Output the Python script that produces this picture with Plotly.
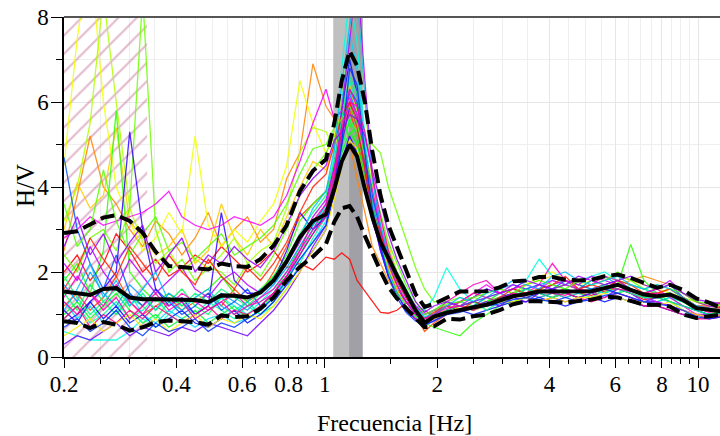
import plotly.graph_objects as go

# ---------------- data ----------------
freq = [0.200, 0.217, 0.235, 0.255, 0.276, 0.300, 0.325, 0.352, 0.382, 0.414,
        0.449, 0.487, 0.528, 0.572, 0.620, 0.672, 0.729, 0.790, 0.857, 0.929,
        1.007, 1.060, 1.110, 1.165, 1.220, 1.280, 1.340, 1.410, 1.480, 1.560,
        1.650, 1.750, 1.850, 1.960, 2.12, 2.30, 2.50, 2.71, 2.94, 3.19,
        3.46, 3.75, 4.07, 4.41, 4.78, 5.18, 5.62, 6.09, 6.60, 7.16,
        7.76, 8.41, 9.12, 9.89, 10.7, 11.6]

hv_mean = [1.54, 1.50, 1.46, 1.60, 1.62, 1.40, 1.36, 1.36, 1.35, 1.35,
           1.34, 1.29, 1.45, 1.44, 1.40, 1.52, 1.80, 2.25, 2.82, 3.20,
           3.36, 3.95, 4.60, 5.00, 4.72, 3.95, 3.30, 2.70, 2.30, 1.92,
           1.52, 1.10, 0.80, 0.95, 1.04, 1.11, 1.17, 1.23, 1.33, 1.43,
           1.48, 1.54, 1.54, 1.54, 1.54, 1.55, 1.62, 1.70, 1.58, 1.47,
           1.43, 1.47, 1.34, 1.15, 1.11, 1.07]

hv_upper = [2.92, 2.96, 3.12, 3.28, 3.34, 3.20, 2.92, 2.48, 2.14, 2.12,
            2.10, 2.06, 2.20, 2.14, 2.12, 2.30, 2.62, 3.10, 3.90, 4.38,
            4.65, 5.50, 6.50, 7.20, 6.85, 6.00, 4.85, 3.80, 3.10, 2.62,
            2.05, 1.48, 1.18, 1.25, 1.40, 1.54, 1.54, 1.55, 1.64, 1.78,
            1.80, 1.88, 1.88, 1.82, 1.80, 1.82, 1.90, 1.94, 1.86, 1.74,
            1.63, 1.70, 1.58, 1.38, 1.28, 1.15]

hv_lower = [0.84, 0.80, 0.68, 0.82, 0.76, 0.62, 0.70, 0.82, 0.86, 0.84,
            0.82, 0.76, 0.98, 0.94, 0.96, 1.14, 1.40, 1.80, 2.12, 2.36,
            2.66, 3.18, 3.50, 3.55, 3.30, 2.85, 2.45, 2.02, 1.65, 1.38,
            1.15, 0.92, 0.70, 0.72, 0.90, 0.88, 0.96, 1.00, 1.10, 1.24,
            1.31, 1.31, 1.29, 1.28, 1.32, 1.35, 1.42, 1.40, 1.32, 1.23,
            1.23, 1.19, 1.00, 0.92, 0.96, 1.00]

# individual windows (H/V per window)
hv_windows = [
    [2.0, 2.4, 1.8, 2.2, 2.9, 2.5, 2.0, 2.3, 1.9, 2.1,
     2.4, 2.2, 2.6, 2.3, 2.0, 2.2, 2.5, 2.1, 2.2, 2.05,
     2.35, 2.3, 2.45, 2.3, 1.8, 1.55, 1.3, 1.05, 1.03, 1.1,
     1.27, 1.2, 1.1, 0.95, 1.1, 1.2, 1.15, 1.3, 1.4, 1.45,
     1.5, 1.4, 1.5, 1.6, 1.5, 1.45, 1.55, 1.6, 1.5, 1.35,
     1.4, 1.45, 1.3, 1.2, 1.15, 1.12],
    [1.2, 1.5, 1.1, 1.4, 1.9, 1.3, 1.0, 1.2, 1.4, 1.1,
     1.3, 1.5, 1.2, 1.6, 1.3, 1.5, 2.0, 2.6, 3.3, 3.6,
     3.9, 4.6, 5.3, 5.8, 5.2, 4.2, 3.4, 2.8, 2.3, 1.8,
     1.4, 1.0, 0.6, 0.8, 1.0, 1.1, 1.2, 1.2, 1.3, 1.4,
     1.5, 1.6, 1.5, 1.4, 1.5, 1.6, 1.7, 1.8, 1.7, 1.6,
     1.5, 1.6, 1.4, 1.2, 1.2, 1.3],
    [2.5, 3.8, 5.2, 4.0, 3.6, 3.0, 2.6, 3.2, 2.9, 2.4,
     2.8, 3.4, 2.6, 3.0, 3.3, 2.7, 3.0, 4.2, 4.8, 6.9,
     5.9, 5.6, 5.9, 5.0, 4.2, 3.4, 2.6, 2.2, 1.8, 1.5,
     1.3, 1.1, 0.9, 1.0, 1.1, 1.2, 1.3, 1.2, 1.3, 1.5,
     1.6, 1.5, 1.6, 1.7, 1.6, 1.5, 1.6, 1.7, 1.8, 1.9,
     1.8, 1.7, 1.5, 1.3, 1.2, 1.3],
    [3.0, 4.1, 3.5, 3.8, 5.4, 3.2, 2.8, 2.4, 2.6, 3.0,
     2.2, 2.5, 3.6, 2.8, 2.4, 3.0, 2.6, 3.3, 4.0, 4.6,
     4.4, 5.0, 6.0, 6.4, 5.8, 4.9, 3.9, 3.2, 2.6, 2.0,
     1.5, 1.1, 0.9, 1.0, 1.2, 1.3, 1.2, 1.4, 1.5, 1.6,
     1.7, 1.8, 1.9, 1.7, 1.6, 1.7, 1.8, 1.9, 1.8, 1.7,
     1.6, 1.7, 1.5, 1.3, 1.2, 1.25],
    [4.5, 7.5, 9.5, 6.0, 4.0, 3.2, 2.5, 2.8, 3.4, 2.9,
     5.2, 3.1, 2.6, 3.0, 2.7, 3.2, 3.6, 4.5, 6.5, 5.5,
     4.8, 5.2, 6.2, 7.5, 8.8, 6.0, 4.0, 3.0, 2.2, 1.8,
     1.5, 1.2, 1.0, 1.1, 1.3, 1.2, 1.3, 1.5, 1.6, 1.5,
     1.7, 1.9, 2.0, 1.8, 1.7, 1.8, 1.9, 1.8, 1.7, 1.6,
     1.5, 1.6, 1.4, 1.2, 1.1, 1.2],
    [3.2, 4.0, 5.5, 8.5, 6.0, 3.5, 2.7, 2.2, 2.5, 2.0,
     2.3, 2.1, 2.4, 2.8, 2.2, 2.5, 2.7, 3.5, 4.8, 5.4,
     5.3, 4.9, 5.5, 6.3, 5.8, 4.6, 3.5, 2.8, 2.2, 1.7,
     1.3, 1.0, 0.85, 1.0, 1.2, 1.3, 1.4, 1.3, 1.5, 1.6,
     1.5, 1.6, 1.7, 1.8, 1.7, 1.6, 1.5, 1.7, 1.6, 1.5,
     1.6, 1.5, 1.4, 1.3, 1.2, 1.15],
    [2.4, 2.0, 2.8, 3.0, 2.5, 3.5, 8.5, 3.0, 2.0, 2.3,
     1.8, 2.1, 2.0, 1.7, 2.2, 1.9, 2.4, 3.0, 3.8, 4.4,
     4.8, 5.2, 5.1, 5.6, 5.3, 5.0, 5.0, 4.8, 4.0, 3.4,
     2.8, 2.1, 1.6, 1.3, 1.3, 1.4, 1.3, 1.2, 1.4, 1.5,
     1.6, 1.5, 1.6, 1.7, 1.6, 1.8, 1.7, 1.6, 1.5, 1.4,
     1.5, 1.4, 1.3, 1.2, 1.1, 1.2],
    [1.8, 2.2, 1.5, 2.5, 5.8, 2.0, 1.6, 1.3, 1.5, 1.2,
     1.4, 1.6, 1.9, 1.5, 1.3, 1.6, 1.9, 2.4, 3.2, 3.6,
     3.9, 4.5, 5.2, 5.5, 5.0, 4.1, 3.3, 2.7, 2.2, 1.8,
     1.4, 1.0, 0.8, 0.7, 0.6, 0.5, 0.8, 1.0, 1.2, 1.3,
     1.4, 1.3, 1.4, 1.5, 1.4, 1.5, 1.6, 1.7, 2.65, 1.8,
     1.5, 1.3, 1.1, 0.9, 1.0, 1.1],
    [1.0, 1.3, 0.9, 1.2, 1.5, 1.1, 0.8, 1.0, 0.7, 0.9,
     1.1, 0.8, 1.0, 1.2, 0.9, 1.1, 1.5, 2.0, 2.6, 3.1,
     3.5, 4.2, 4.8, 5.3, 5.0, 4.3, 3.6, 3.0, 2.4, 1.9,
     1.5, 1.1, 0.9, 1.0, 1.2, 1.1, 1.2, 1.3, 1.4, 1.3,
     1.4, 1.5, 1.6, 1.5, 1.4, 1.5, 1.6, 1.5, 1.6, 1.4,
     1.3, 1.4, 1.3, 1.1, 1.0, 1.05],
    [1.5, 1.1, 1.7, 1.3, 1.0, 1.4, 1.2, 0.9, 1.3, 1.6,
     1.2, 1.0, 1.4, 1.1, 1.3, 1.0, 1.3, 1.8, 2.4, 3.0,
     3.4, 4.0, 4.9, 5.6, 5.2, 4.5, 3.7, 3.1, 2.5, 2.0,
     1.6, 1.2, 0.9, 1.1, 1.3, 1.2, 1.1, 1.3, 1.5, 1.6,
     1.5, 1.6, 1.7, 1.6, 1.5, 1.6, 1.5, 1.7, 1.6, 1.5,
     1.4, 1.5, 1.3, 1.2, 1.1, 1.1],
    [0.9, 1.2, 0.8, 1.0, 1.3, 0.9, 1.1, 1.4, 1.0, 0.8,
     1.0, 1.3, 1.1, 0.9, 1.2, 1.0, 1.2, 1.6, 2.2, 2.8,
     3.3, 4.4, 5.8, 6.5, 5.9, 4.6, 3.5, 2.7, 2.1, 1.7,
     1.3, 1.0, 0.85, 1.0, 1.2, 1.3, 1.2, 1.4, 1.3, 1.5,
     1.6, 1.5, 1.4, 1.6, 1.5, 1.4, 1.6, 1.5, 1.7, 1.6,
     1.5, 1.4, 1.3, 1.15, 1.1, 1.05],
    [0.6, 0.5, 0.4, 0.4, 0.4, 0.6, 0.9, 0.7, 1.0, 1.3,
     0.9, 1.1, 1.4, 1.2, 1.0, 1.3, 1.6, 2.0, 2.5, 3.0,
     3.6, 4.8, 6.8, 8.5, 7.4, 5.2, 3.8, 2.9, 2.3, 1.9,
     1.5, 1.2, 1.1, 1.4, 2.1, 1.6, 1.3, 1.4, 1.5, 1.6,
     1.8, 2.3, 1.9, 1.7, 1.8, 1.9, 2.0, 1.8, 1.7, 1.6,
     1.5, 1.4, 1.3, 1.2, 1.1, 1.1],
    [1.3, 0.9, 1.2, 0.8, 1.1, 1.5, 1.0, 0.8, 1.1, 0.9,
     0.7, 0.9, 1.0, 0.8, 0.9, 1.1, 1.4, 1.9, 2.3, 2.7,
     3.2, 4.3, 6.0, 7.6, 6.8, 5.0, 3.7, 2.8, 2.1, 1.6,
     1.2, 0.9, 0.8, 0.9, 1.1, 1.2, 1.1, 1.2, 1.3, 1.4,
     1.5, 1.4, 1.5, 1.4, 1.5, 1.6, 1.5, 1.6, 1.5, 1.4,
     1.3, 1.4, 1.2, 1.1, 1.0, 1.0],
    [1.7, 1.3, 2.0, 1.5, 1.2, 1.7, 1.4, 1.1, 1.5, 1.3,
     1.0, 1.2, 1.5, 1.3, 1.1, 1.4, 1.7, 2.1, 2.6, 3.1,
     3.6, 4.5, 5.6, 6.2, 5.7, 4.7, 3.8, 3.0, 2.4, 1.9,
     1.5, 1.2, 1.0, 1.1, 1.0, 1.1, 1.2, 1.4, 1.6, 1.7,
     1.6, 1.7, 1.8, 1.7, 1.6, 1.8, 1.9, 1.7, 1.6, 1.5,
     1.4, 1.5, 1.3, 1.2, 1.1, 1.1],
    [4.7, 3.0, 2.2, 1.6, 2.4, 1.5, 1.2, 1.6, 1.3, 1.0,
     1.2, 1.5, 1.1, 1.3, 1.6, 1.2, 1.5, 1.9, 2.4, 2.9,
     3.4, 4.1, 5.2, 6.3, 6.0, 4.9, 3.8, 3.0, 2.3, 1.8,
     1.4, 1.1, 0.9, 1.0, 1.2, 1.3, 1.4, 1.6, 1.5, 1.4,
     1.6, 1.7, 1.6, 1.8, 1.7, 1.6, 1.7, 1.8, 1.6, 1.5,
     1.6, 1.7, 1.4, 1.2, 1.1, 1.1],
    [0.8, 1.0, 1.3, 0.9, 1.2, 0.8, 1.0, 0.7, 0.9, 1.1,
     0.8, 0.7, 0.9, 1.1, 0.8, 1.0, 1.3, 1.7, 2.1, 2.5,
     3.0, 3.9, 5.8, 7.0, 6.2, 4.6, 3.4, 2.5, 1.9, 1.5,
     1.1, 0.9, 0.8, 0.9, 1.0, 1.1, 1.0, 1.1, 1.2, 1.3,
     1.3, 1.4, 1.3, 1.2, 1.3, 1.4, 1.3, 1.4, 1.3, 1.2,
     1.2, 1.1, 1.0, 1.0, 0.95, 1.0],
    [1.1, 0.8, 1.3, 1.6, 2.0, 5.3, 3.0, 1.6, 1.2, 1.4,
     1.0, 1.2, 3.4, 1.8, 1.5, 1.5, 1.8, 2.5, 3.4, 3.0,
     3.3, 3.8, 4.6, 5.2, 4.8, 4.0, 3.2, 2.6, 2.0, 1.6,
     1.3, 1.0, 0.8, 0.9, 1.1, 1.2, 1.3, 1.2, 1.4, 1.5,
     1.4, 1.5, 1.6, 1.5, 1.4, 1.5, 1.6, 1.5, 1.4, 1.3,
     1.4, 1.3, 1.2, 1.1, 1.0, 1.0],
    [0.3, 0.5, 0.4, 0.6, 0.8, 0.5, 0.7, 0.6, 0.5, 0.7,
     0.6, 0.8, 0.7, 0.6, 0.5, 0.8, 1.1, 1.5, 2.0, 2.6,
     3.1, 4.0, 5.0, 5.9, 5.5, 4.4, 3.3, 2.5, 1.9, 1.5,
     1.1, 0.9, 0.75, 0.85, 1.0, 1.1, 1.2, 1.3, 1.2, 1.4,
     1.3, 1.5, 1.4, 1.3, 1.4, 1.5, 1.4, 1.6, 1.5, 1.3,
     1.3, 1.2, 1.1, 1.0, 1.0, 1.0],
    [2.2, 1.8, 2.6, 2.0, 1.6, 2.3, 1.9, 1.5, 1.8, 2.1,
     1.6, 1.4, 1.8, 2.0, 1.7, 1.5, 1.8, 2.2, 2.7, 3.3,
     3.7, 4.5, 5.8, 7.5, 9.0, 6.5, 4.3, 3.0, 2.2, 1.7,
     1.3, 1.0, 0.85, 0.9, 1.1, 1.2, 1.4, 1.6, 1.5, 1.7,
     1.6, 1.5, 1.7, 1.8, 1.7, 1.9, 1.8, 1.7, 1.6, 1.5,
     1.6, 1.8, 1.5, 1.3, 1.2, 1.15],
    [2.8, 3.0, 3.3, 3.1, 3.2, 3.3, 3.4, 3.6, 3.9, 3.3,
     3.1, 3.0, 3.1, 3.3, 3.2, 3.1, 3.3, 3.8, 4.6, 5.5,
     6.3, 5.6, 5.8, 6.1, 5.7, 4.8, 3.9, 3.0, 2.4, 1.9,
     1.5, 1.2, 1.0, 1.1, 1.2, 1.3, 1.5, 1.7, 1.5, 1.6,
     1.7, 1.6, 1.8, 1.7, 1.6, 1.5, 1.6, 1.7, 1.5, 1.4,
     1.3, 1.2, 1.1, 1.0, 0.95, 1.0],
    [1.4, 1.9, 1.5, 1.2, 1.7, 1.3, 1.0, 1.4, 1.2, 1.5,
     1.3, 1.1, 1.3, 1.5, 1.2, 1.4, 1.6, 2.0, 2.5, 3.0,
     3.5, 4.3, 5.5, 6.3, 5.9, 4.8, 3.6, 2.8, 2.1, 1.7,
     1.3, 1.0, 0.9, 1.0, 1.3, 1.5, 1.7, 1.8, 1.5, 1.6,
     1.5, 1.7, 2.2, 1.8, 1.6, 1.7, 1.9, 1.8, 1.6, 1.5,
     1.6, 1.4, 1.2, 1.0, 0.9, 0.95],
    [0.9, 1.2, 0.7, 1.0, 0.8, 1.1, 0.9, 1.2, 1.0, 0.8,
     1.0, 1.2, 0.9, 1.1, 1.0, 1.2, 1.5, 1.9, 2.4, 2.9,
     3.3, 4.2, 5.3, 6.0, 5.6, 4.5, 3.5, 2.7, 2.1, 1.6,
     1.2, 0.9, 0.8, 0.9, 1.1, 1.3, 1.5, 1.4, 1.3, 1.5,
     1.4, 1.3, 1.4, 1.5, 1.4, 1.3, 1.4, 1.5, 1.4, 1.2,
     1.2, 1.1, 1.0, 0.9, 0.9, 0.95],
    [1.6, 2.1, 2.8, 2.3, 1.9, 2.6, 2.2, 1.8, 2.4, 2.0,
     1.7, 2.3, 1.9, 1.6, 2.1, 1.8, 2.2, 2.7, 3.4, 4.0,
     4.3, 5.0, 5.7, 6.0, 5.4, 4.4, 3.5, 2.9, 2.3, 1.8,
     1.4, 1.1, 0.9, 1.05, 1.2, 1.1, 1.3, 1.2, 1.4, 1.6,
     1.5, 1.6, 1.7, 1.9, 1.6, 1.7, 1.6, 1.8, 1.7, 1.5,
     1.5, 1.6, 1.4, 1.2, 1.1, 1.2],
    [0.5, 0.7, 0.9, 0.6, 0.8, 1.0, 0.7, 0.9, 0.6, 0.8,
     1.0, 0.7, 0.9, 0.8, 1.0, 0.9, 1.2, 1.6, 2.0, 2.5,
     3.0, 3.7, 4.5, 5.1, 4.9, 4.1, 3.4, 2.7, 2.1, 1.6,
     1.2, 0.95, 0.8, 0.9, 1.0, 1.2, 1.1, 1.2, 1.3, 1.3,
     1.4, 1.3, 1.4, 1.3, 1.4, 1.4, 1.5, 1.4, 1.3, 1.3,
     1.2, 1.3, 1.1, 1.0, 0.95, 1.0],
    [3.6, 2.6, 3.0, 4.4, 3.2, 2.4, 2.9, 3.3, 2.5, 2.7,
     2.3, 2.6, 2.9, 2.4, 2.6, 2.8, 3.1, 3.6, 4.3, 4.9,
     5.0, 5.4, 5.6, 5.9, 5.5, 4.7, 4.1, 3.4, 2.7, 2.2,
     1.7, 1.3, 1.0, 1.1, 1.25, 1.3, 1.4, 1.5, 1.6, 1.5,
     1.7, 1.8, 1.7, 1.6, 1.8, 1.7, 1.8, 2.0, 1.8, 1.6,
     1.7, 1.6, 1.5, 1.3, 1.25, 1.2],
    [1.9, 1.4, 1.0, 1.3, 1.6, 1.2, 1.5, 1.1, 1.4, 1.2,
     1.5, 1.3, 1.6, 1.4, 1.2, 1.5, 1.9, 2.3, 2.9, 3.4,
     3.8, 4.6, 5.6, 6.6, 6.2, 4.9, 3.6, 2.7, 2.0, 1.5,
     1.2, 0.95, 0.85, 0.95, 1.1, 1.2, 1.3, 1.1, 1.3, 1.4,
     1.6, 1.5, 1.4, 1.5, 1.6, 1.5, 1.7, 1.6, 1.5, 1.4,
     1.4, 1.3, 1.2, 1.1, 1.0, 1.05],
    [1.1, 1.6, 2.2, 1.4, 1.8, 1.2, 1.6, 2.0, 1.3, 1.1,
     1.4, 1.6, 1.2, 1.0, 1.3, 1.6, 1.7, 2.2, 2.8, 3.5,
     3.9, 4.9, 6.4, 7.8, 8.6, 6.1, 4.2, 3.1, 2.4, 1.9,
     1.5, 1.15, 0.95, 1.0, 1.2, 1.4, 1.3, 1.5, 1.6, 1.8,
     1.7, 1.6, 1.9, 2.0, 1.8, 1.7, 1.8, 1.9, 1.7, 1.6,
     1.7, 1.6, 1.4, 1.2, 1.15, 1.1],
    [0.7, 0.9, 0.6, 0.8, 1.1, 0.7, 0.5, 0.8, 0.6, 0.7,
     0.9, 0.6, 0.8, 0.7, 0.9, 1.1, 1.4, 1.8, 2.3, 2.7,
     3.1, 3.9, 5.0, 6.8, 6.4, 4.8, 3.5, 2.6, 1.9, 1.4,
     1.05, 0.85, 0.75, 0.85, 1.0, 1.05, 1.15, 1.2, 1.25, 1.35,
     1.4, 1.35, 1.3, 1.4, 1.3, 1.35, 1.45, 1.5, 1.4, 1.3,
     1.25, 1.2, 1.1, 0.95, 0.9, 0.95],
    [2.6, 3.3, 2.4, 2.9, 2.2, 2.7, 3.1, 2.0, 2.4, 2.8,
     2.0, 2.4, 2.2, 2.6, 2.3, 2.1, 2.5, 3.1, 3.8, 4.2,
     4.5, 5.1, 5.3, 5.7, 5.6, 5.2, 4.4, 3.6, 2.9, 2.3,
     1.8, 1.3, 1.05, 1.2, 1.3, 1.2, 1.3, 1.4, 1.5, 1.6,
     1.8, 1.7, 1.6, 1.7, 1.9, 1.8, 1.7, 1.8, 1.9, 1.7,
     1.6, 1.7, 1.5, 1.35, 1.3, 1.25],
    [1.3, 1.0, 1.5, 1.1, 1.4, 0.9, 1.2, 1.5, 1.1, 1.3,
     0.9, 1.1, 1.3, 1.0, 1.2, 1.3, 1.5, 1.9, 2.5, 3.2,
     3.6, 4.4, 5.4, 6.0, 5.9, 5.3, 4.3, 3.3, 2.5, 1.9,
     1.4, 1.05, 0.9, 1.0, 1.15, 1.2, 1.1, 1.25, 1.35, 1.5,
     1.45, 1.55, 1.5, 1.45, 1.6, 1.55, 1.65, 1.6, 1.55, 1.45,
     1.5, 1.45, 1.35, 1.15, 1.05, 1.1],
]

peak_band = [1.053, 1.262]        # light grey band (frequency limits)
peak_band_inner = [1.162, 1.262]  # darker grey band
hatch_band = [0.2, 0.334]         # hatched low-frequency zone
y_limits = [0, 8]

x_major = [0.2, 0.4, 0.6, 0.8, 1, 2, 4, 6, 8, 10]
x_major_text = ["0.2", "0.4", "0.6", "0.8", "1", "2", "4", "6", "8", "10"]
x_minor = [0.25, 0.3, 0.35, 0.45, 0.5, 0.55, 0.65, 0.7, 0.75, 0.85, 0.9, 0.95,
           1.5, 2.5, 3, 3.5, 4.5, 5, 5.5, 6.5, 7, 7.5, 8.5, 9, 9.5]
y_major = [0, 2, 4, 6, 8]
y_minor = [1, 3, 5, 7]

# ---------------- style ----------------
window_hues = [0, 16, 31, 47, 63, 79, 94, 110, 126, 141, 157, 173, 189, 204,
               220, 236, 251, 267, 283, 299, 314, 330,
               8, 55, 100, 148, 196, 228, 275, 320]
FONT = "Liberation Serif"
W, H = 720, 436
ML, MT, MB = 64, 17, 79
PW, PH = W - ML, H - MT - MB

fig = go.Figure()

# hatched zone
fig.add_trace(go.Scatter(
    x=[hatch_band[0], hatch_band[1], hatch_band[1], hatch_band[0], hatch_band[0]],
    y=[y_limits[0], y_limits[0], y_limits[1], y_limits[1], y_limits[0]],
    mode="lines", fill="toself", fillcolor="rgba(0,0,0,0)",
    fillpattern=dict(shape="/", fgcolor="rgb(200,118,155)",
                     bgcolor="rgba(0,0,0,0)", size=13, solidity=0.17),
    line=dict(width=0), hoverinfo="skip", showlegend=False))

# grey peak bands
for band, col in [(peak_band, "rgb(192,192,192)"), (peak_band_inner, "rgb(160,160,166)")]:
    fig.add_trace(go.Scatter(
        x=[band[0], band[1], band[1], band[0], band[0]],
        y=[y_limits[0], y_limits[0], y_limits[1], y_limits[1], y_limits[0]],
        mode="lines", fill="toself", fillcolor=col,
        line=dict(width=0), hoverinfo="skip", showlegend=False))

for i, w in enumerate(hv_windows):
    hue = window_hues[i % len(window_hues)]
    fig.add_trace(go.Scatter(
        x=freq, y=w, mode="lines",
        line=dict(color=f"hsla({hue},100%,50%,0.85)", width=1.3),
        showlegend=False, hoverinfo="skip"))

for ys in (hv_upper, hv_lower):
    fig.add_trace(go.Scatter(
        x=freq, y=ys, mode="lines",
        line=dict(color="black", width=4, dash="14px,6px"),
        showlegend=False))
fig.add_trace(go.Scatter(
    x=freq, y=hv_mean, mode="lines",
    line=dict(color="black", width=4), showlegend=False))

# top frame line
fig.add_shape(type="line", xref="paper", yref="paper", x0=0, x1=1, y0=1, y1=1,
              line=dict(color="#555555", width=2))

# axis titles placed as annotations
fig.add_annotation(text="Frecuencia [Hz]", xref="paper", yref="paper",
                   x=(395 - 64) / PW, y=-(423 - 357) / PH,
                   xanchor="center", yanchor="middle", showarrow=False,
                   font=dict(family=FONT, size=24, color="black"))
fig.add_annotation(text="H/V", xref="paper", yref="paper",
                   x=-(64 - 25) / PW, y=(357 - 186) / PH,
                   xanchor="center", yanchor="middle", textangle=-90,
                   showarrow=False, font=dict(family=FONT, size=25, color="black"))

fig.update_layout(
    width=W, height=H,
    margin=dict(l=ML, r=0, t=MT, b=MB, pad=0, autoexpand=False),
    paper_bgcolor="white", plot_bgcolor="white",
    font=dict(family=FONT, size=22, color="black"),
    xaxis=dict(
        type="log", range=[-0.69897, 1.0588], automargin=False,
        tickmode="array", tickvals=x_major, ticktext=x_major_text,
        ticks="outside", ticklen=9, tickwidth=1, tickcolor="black",
        showline=True, linecolor="black", linewidth=1.5,
        showgrid=True, gridcolor="#e6e6e6", gridwidth=1,
        minor=dict(tickmode="array", tickvals=x_minor, ticks="outside",
                   ticklen=5, tickcolor="black", showgrid=True,
                   gridcolor="#eeeeee", gridwidth=1),
        tickfont=dict(family=FONT, size=23), ticklabeloverflow="allow",
        zeroline=False),
    yaxis=dict(
        range=y_limits, automargin=False, tickmode="array", tickvals=y_major,
        ticks="outside", ticklen=11, tickwidth=1, tickcolor="black",
        showline=True, linecolor="black", linewidth=1.5,
        showgrid=True, gridcolor="#e6e6e6", gridwidth=1,
        minor=dict(tickmode="array", tickvals=y_minor, ticks="outside",
                   ticklen=6, tickcolor="black", showgrid=True,
                   gridcolor="#eeeeee", gridwidth=1),
        tickfont=dict(family=FONT, size=23), ticklabeloverflow="allow",
        zeroline=False),
)
try:
    fig.update_xaxes(ticklabelstandoff=-3)
    fig.update_yaxes(ticklabelstandoff=-2)
except Exception:
    pass

# remove the browser's default 8px body margin so the 720x436 figure fills the window
fig.write_html("out.html",
               config={"displayModeBar": False},
               post_script="document.body.style.margin='0px';document.body.style.overflow='hidden';")
